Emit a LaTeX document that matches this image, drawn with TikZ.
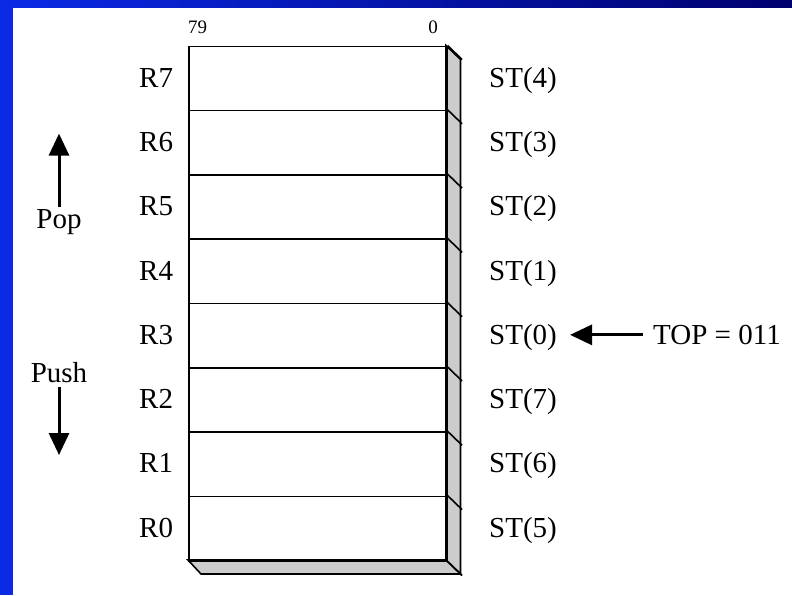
\documentclass[tikz,border=0pt]{standalone}
\usepackage{fontspec}
\setmainfont{Liberation Serif}
\usetikzlibrary{arrows.meta}
\definecolor{bandblue}{HTML}{0A2AE6}
\definecolor{banddark}{HTML}{00006E}
\definecolor{sidegray}{HTML}{CCCCCC}

\begin{document}
\begin{tikzpicture}[x=1pt,y=-1pt,line join=miter,
  reglabel/.style={font=\fontsize{29}{34}\selectfont,inner sep=0pt},
  bitlabel/.style={font=\fontsize{19}{22}\selectfont,inner sep=0pt},
  fpuline/.style={line width=1.6pt},
  regrow/.style={draw,fpuline,rectangle,inner sep=0pt,anchor=north west,
    minimum width=258pt,minimum height=64.3pt},
  bigarrow/.style={line width=3pt,-{Triangle[length=22pt,width=20pt]}}]

% page and slide frame
\useasboundingbox (0,0) rectangle (792,595);
\fill[white] (0,0) rectangle (792,595);
\shade[left color=bandblue,right color=banddark] (0,0) rectangle (792,7.5);
\fill[bandblue] (0,0) rectangle (12.6,595);

% depth faces of the register stack
\def\dx{14.5}
\def\dy{14}
\filldraw[fill=sidegray,fpuline] (446,45.5) -- ++(\dx,\dy) -- (446+\dx,560+\dy) -- (446,560) -- cycle;
\filldraw[fill=sidegray,fpuline] (188,560) -- (188+13,560+\dy) -- (446+\dx,560+\dy) -- (446,560) -- cycle;

% the eight data registers R7 (top) .. R0 (bottom)
\foreach \k [count=\i from 0] in {7,6,5,4,3,2,1,0} {
  \node[regrow] (r\k) at (188,45.5+64.3*\i) {};
  \draw[fpuline] (r\k.north east) -- ++(\dx,\dy);
  \node[reglabel,anchor=base west] (rl\k) at (139,45.5+64.3*\i+32.15+9.5) {R\k};
}
\draw[fpuline] (r0.south east) -- ++(\dx,\dy);

% stack-relative names ST(i), TOP = 011
\foreach \k/\s in {7/4,6/3,5/2,4/1,3/0,2/7,1/6,0/5} {
  \node[reglabel,anchor=base west] (st\s) at (489,0 |- rl\k.base) {ST(\s)};
}

% bit positions
\node[bitlabel,anchor=base west] (b79) at (188,33.4) {79};
\node[bitlabel,anchor=base] (b0) at (433,33.4) {0};

% top-of-stack pointer
\node[reglabel,anchor=base west] (toplabel) at (653,0 |- rl3.base) {TOP = 011};
\draw[bigarrow,shorten <=10pt,shorten >=13pt] (toplabel.west) -- (toplabel.west -| st0.east);

% pop / push directions
\node[reglabel,anchor=base] (pop) at (59,228) {Pop};
\node[reglabel,anchor=base] (push) at (59,382.5) {Push};
\coordinate (popTip) at (59,133.6);
\coordinate (pushTip) at (59,455);
\draw[bigarrow,shorten <=2pt] (pop.north) -- (popTip);
\draw[bigarrow,shorten <=4pt] (push.south) -- (pushTip);
\end{tikzpicture}
\end{document}
